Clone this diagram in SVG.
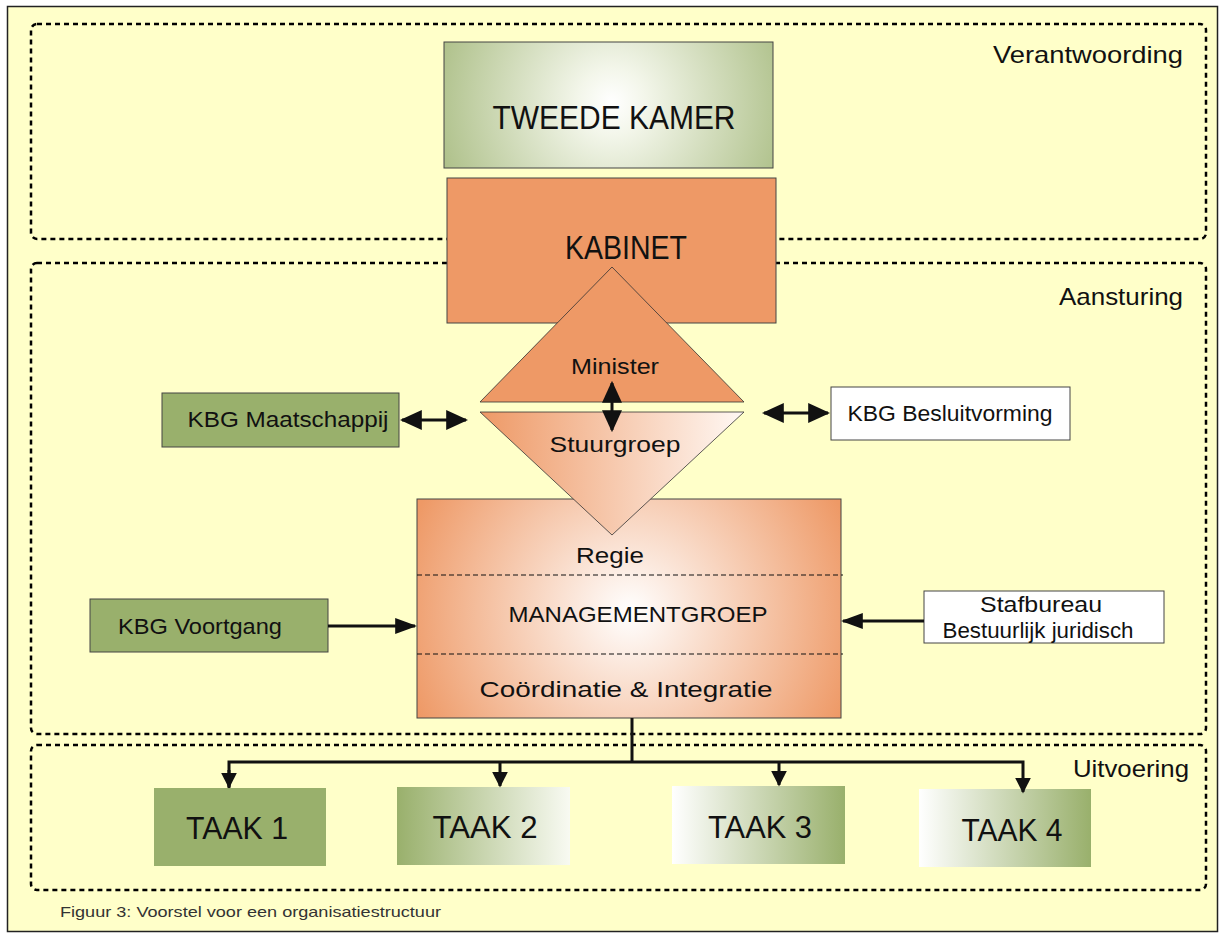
<svg xmlns="http://www.w3.org/2000/svg" width="1224" height="938" viewBox="0 0 1224 938">
<style>
text{font-family:"Liberation Sans",Arial,sans-serif;fill:#111}
.zone{fill:none;stroke:#000;stroke-width:2.5;stroke-dasharray:5 4}
.zl{font-size:24px;text-anchor:end}
.box{stroke:#444;stroke-width:1}
.lbl{font-size:22px;text-anchor:middle}
.big{font-size:34px;text-anchor:middle}
.taak{font-size:32px;text-anchor:middle}
.conn{fill:none;stroke:#111;stroke-width:3}
.dl{stroke:#111;stroke-width:1.2;stroke-dasharray:5 3}
</style>
<defs>
<radialGradient id="gTK" gradientUnits="userSpaceOnUse" cx="612" cy="102" r="225">
<stop offset="0" stop-color="#FFFFFF"/><stop offset="0.15" stop-color="#F3F6EA"/><stop offset="1" stop-color="#99B06C"/>
</radialGradient>
<radialGradient id="gMG" gradientUnits="userSpaceOnUse" cx="630" cy="612" r="235">
<stop offset="0" stop-color="#FFFFFF"/><stop offset="1" stop-color="#EE9966"/>
</radialGradient>
<linearGradient id="gSG" x1="0" y1="0" x2="1" y2="0">
<stop offset="0" stop-color="#EE9966"/><stop offset="1" stop-color="#FFF8F4"/>
</linearGradient>
<linearGradient id="gGW" x1="0" y1="0" x2="1" y2="0">
<stop offset="0" stop-color="#99B06C"/><stop offset="1" stop-color="#F8FAF2"/>
</linearGradient>
<linearGradient id="gWG" x1="0" y1="0" x2="1" y2="0">
<stop offset="0" stop-color="#FFFFFF"/><stop offset="1" stop-color="#99B06C"/>
</linearGradient>
<marker id="ah" viewBox="0 0 10 10" refX="9" refY="5" markerUnits="userSpaceOnUse" markerWidth="16" markerHeight="16" orient="auto-start-reverse" preserveAspectRatio="none">
<path d="M0,0 L10,5 L0,10 z" fill="#111"/>
</marker>
<marker id="ahd" viewBox="0 0 10 10" refX="9" refY="5" markerUnits="userSpaceOnUse" markerWidth="22" markerHeight="20" orient="auto-start-reverse" preserveAspectRatio="none">
<path d="M0,0 L10,5 L0,10 z" fill="#111"/>
</marker>
<marker id="ahl" viewBox="0 0 10 10" refX="9" refY="5" markerUnits="userSpaceOnUse" markerWidth="22" markerHeight="16" orient="auto-start-reverse" preserveAspectRatio="none">
<path d="M0,0 L10,5 L0,10 z" fill="#111"/>
</marker>
</defs>

<rect x="0" y="0" width="1224" height="938" fill="#FFFFFF"/>
<rect x="7.5" y="6.5" width="1210" height="925" fill="#FFFFC9" stroke="#222" stroke-width="1.5"/>

<g id="zones">
<rect class="zone" x="31" y="24" width="1175" height="215" rx="6"/>
<rect class="zone" x="31" y="263" width="1175" height="471" rx="6"/>
<rect class="zone" x="31" y="745" width="1175" height="145" rx="6"/>
<text class="zl" x="1183" y="63" textLength="190" lengthAdjust="spacingAndGlyphs">Verantwoording</text>
<text class="zl" x="1183" y="305" textLength="124" lengthAdjust="spacingAndGlyphs">Aansturing</text>
<text class="zl" x="1189" y="777" textLength="116" lengthAdjust="spacingAndGlyphs">Uitvoering</text>
</g>

<g id="tweede-kamer">
<rect class="box" x="444" y="42" width="329" height="126" fill="url(#gTK)"/>
<text class="big" x="614" y="129" textLength="243" lengthAdjust="spacingAndGlyphs">TWEEDE KAMER</text>
</g>

<g id="kabinet">
<rect class="box" x="447" y="178" width="329" height="145" fill="#EE9966"/>
<text class="big" x="626" y="259" textLength="122" lengthAdjust="spacingAndGlyphs">KABINET</text>
</g>

<g id="managementgroep">
<rect class="box" x="417" y="499" width="424" height="219" fill="url(#gMG)"/>
<line class="dl" x1="417" y1="575" x2="843" y2="575"/>
<line class="dl" x1="417" y1="654" x2="843" y2="654"/>
<text class="lbl" x="610" y="563" textLength="68" lengthAdjust="spacingAndGlyphs">Regie</text>
<text class="lbl" x="638" y="622" textLength="259" lengthAdjust="spacingAndGlyphs">MANAGEMENTGROEP</text>
<text class="lbl" x="626" y="697" textLength="293" lengthAdjust="spacingAndGlyphs">Coördinatie &amp; Integratie</text>
</g>

<g id="minister">
<polygon points="612,267 744,402 480,402" fill="#EE9966" stroke="#333" stroke-width="0.8"/>
<text class="lbl" x="615" y="374" textLength="88" lengthAdjust="spacingAndGlyphs">Minister</text>
</g>

<g id="stuurgroep">
<polygon points="480,412 744,412 612,535" fill="url(#gSG)" stroke="#333" stroke-width="0.8"/>
<text class="lbl" x="615" y="452" textLength="131" lengthAdjust="spacingAndGlyphs">Stuurgroep</text>
</g>

<g id="kbg-maatschappij">
<rect class="box" x="162" y="393" width="237" height="54" fill="#99B06C"/>
<text class="lbl" x="288" y="427" textLength="201" lengthAdjust="spacingAndGlyphs">KBG Maatschappij</text>
</g>

<g id="kbg-besluitvorming">
<rect class="box" x="831" y="387" width="239" height="53" fill="#FFFFFF"/>
<text class="lbl" x="950" y="421" textLength="205" lengthAdjust="spacingAndGlyphs">KBG Besluitvorming</text>
</g>

<g id="kbg-voortgang">
<rect class="box" x="90" y="599" width="238" height="53" fill="#99B06C"/>
<text class="lbl" x="200" y="634" textLength="164" lengthAdjust="spacingAndGlyphs">KBG Voortgang</text>
</g>

<g id="stafbureau">
<rect class="box" x="924" y="591" width="240" height="52" fill="#FFFFFF"/>
<text class="lbl" x="1041" y="612" textLength="122" lengthAdjust="spacingAndGlyphs">Stafbureau</text>
<text class="lbl" x="1038" y="638" textLength="191" lengthAdjust="spacingAndGlyphs">Bestuurlijk juridisch</text>
</g>

<g id="taak1">
<rect x="154" y="788" width="172" height="78" fill="#99B06C"/>
<text class="taak" x="237" y="839" textLength="102" lengthAdjust="spacingAndGlyphs">TAAK 1</text>
</g>
<g id="taak2">
<rect x="397" y="787" width="173" height="78" fill="url(#gGW)"/>
<text class="taak" x="485" y="838" textLength="105" lengthAdjust="spacingAndGlyphs">TAAK 2</text>
</g>
<g id="taak3">
<rect x="672" y="786" width="173" height="78" fill="url(#gWG)"/>
<text class="taak" x="760" y="838" textLength="104" lengthAdjust="spacingAndGlyphs">TAAK 3</text>
</g>
<g id="taak4">
<rect x="919" y="789" width="172" height="78" fill="url(#gWG)"/>
<text class="taak" x="1012" y="841" textLength="101" lengthAdjust="spacingAndGlyphs">TAAK 4</text>
</g>

<g id="connectors">
<line class="conn" x1="612" y1="383" x2="612" y2="430" marker-start="url(#ahd)" marker-end="url(#ahd)"/>
<line class="conn" x1="402" y1="420" x2="466" y2="420" marker-start="url(#ahd)" marker-end="url(#ahd)"/>
<line class="conn" x1="764" y1="413" x2="828" y2="413" marker-start="url(#ahd)" marker-end="url(#ahd)"/>
<line class="conn" x1="328" y1="626" x2="415" y2="626" marker-end="url(#ahl)"/>
<line class="conn" x1="924" y1="621" x2="843" y2="621" marker-end="url(#ahl)"/>
<polyline class="conn" points="632,718 632,762"/>
<polyline class="conn" points="229,788 229,762 1023,762 1023,792" marker-end="url(#ah)"/>
<line class="conn" x1="229" y1="770" x2="229" y2="787" marker-end="url(#ah)"/>
<line class="conn" x1="500" y1="762" x2="500" y2="786" marker-end="url(#ah)"/>
<line class="conn" x1="779" y1="762" x2="779" y2="785" marker-end="url(#ah)"/>
</g>

<text x="60" y="917" font-size="15" style="fill:#333" textLength="381" lengthAdjust="spacingAndGlyphs">Figuur 3: Voorstel voor een organisatiestructuur</text>
</svg>
